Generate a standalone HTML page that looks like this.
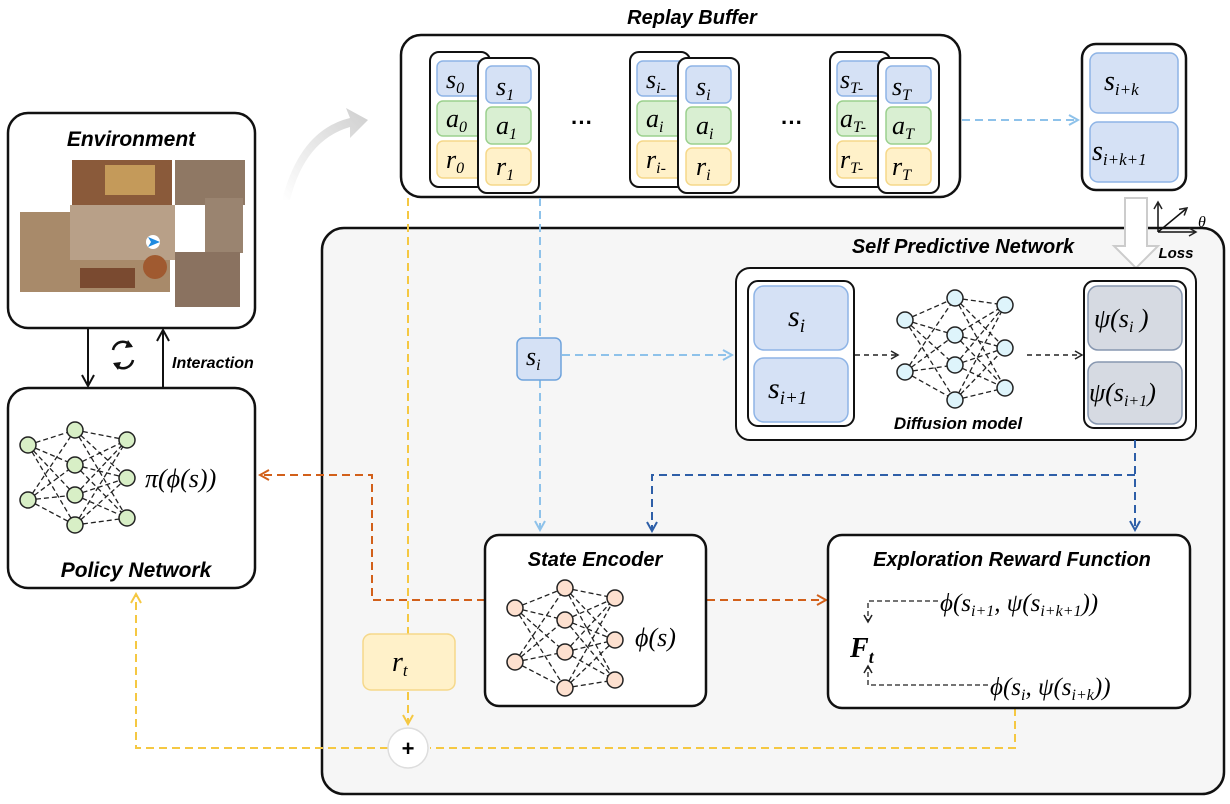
<!DOCTYPE html>
<html><head><meta charset="utf-8"><style>
html,body{margin:0;padding:0;background:#fff;}
svg{display:block;}
.m{font-family:"Liberation Serif",serif;font-style:italic;}
.t{font-family:"Liberation Sans",sans-serif;font-style:italic;font-weight:bold;}
</style></head><body>
<svg width="1230" height="804" viewBox="0 0 1230 804" xmlns="http://www.w3.org/2000/svg">
<defs>
<marker id="ab" markerWidth="10" markerHeight="10" refX="8" refY="5" orient="auto" markerUnits="userSpaceOnUse"><path d="M1 1L8 5L1 9" fill="none" stroke="#222" stroke-width="1.5"/></marker>
<marker id="alb" markerWidth="12" markerHeight="12" refX="10" refY="6" orient="auto" markerUnits="userSpaceOnUse"><path d="M1 1L10 6L1 11" fill="none" stroke="#8ec2ea" stroke-width="2"/></marker>
<marker id="adb" markerWidth="12" markerHeight="12" refX="10" refY="6" orient="auto" markerUnits="userSpaceOnUse"><path d="M1 1L10 6L1 11" fill="none" stroke="#2e5fa8" stroke-width="2"/></marker>
<marker id="aor" markerWidth="12" markerHeight="12" refX="10" refY="6" orient="auto" markerUnits="userSpaceOnUse"><path d="M1 1L10 6L1 11" fill="none" stroke="#d2601a" stroke-width="2"/></marker>
<marker id="ay" markerWidth="12" markerHeight="12" refX="10" refY="6" orient="auto" markerUnits="userSpaceOnUse"><path d="M1 1L10 6L1 11" fill="none" stroke="#f5c842" stroke-width="2"/></marker>
<marker id="ak" markerWidth="14" markerHeight="14" refX="12" refY="7" orient="auto" markerUnits="userSpaceOnUse"><path d="M1 1L12 7L1 13" fill="none" stroke="#111" stroke-width="2"/></marker>
<linearGradient id="sw" x1="0" y1="1" x2="1" y2="0"><stop offset="0" stop-color="#fff"/><stop offset="1" stop-color="#cfcfcf"/></linearGradient>
</defs>

<!-- SPN big box -->
<rect x="322" y="228" width="902" height="566" rx="22" fill="#f6f6f6" stroke="#111" stroke-width="2.5"/>
<text x="963" y="253" class="t" font-size="20" text-anchor="middle">Self Predictive Network</text>

<!-- Environment -->
<rect x="8" y="113" width="247" height="215" rx="20" fill="#fff" stroke="#111" stroke-width="2.5"/>
<text x="131" y="146" class="t" font-size="21" text-anchor="middle">Environment</text>
<g>
<rect x="72" y="160" width="100" height="45" fill="#8a5a3a"/>
<rect x="105" y="165" width="50" height="30" fill="#c49a5a"/>
<rect x="20" y="212" width="150" height="80" fill="#a88a6a"/>
<rect x="70" y="205" width="105" height="55" fill="#b8a088"/>
<rect x="175" y="160" width="70" height="45" fill="#8f7864"/>
<rect x="205" y="198" width="38" height="55" fill="#9a8470"/>
<rect x="175" y="252" width="65" height="55" fill="#8a7260"/>
<rect x="80" y="268" width="55" height="20" fill="#7a4a30"/>
<circle cx="155" cy="267" r="12" fill="#a05a30"/>
<circle cx="153" cy="242" r="7" fill="#fff"/>
<path d="M148 237L160 242L148 247L151 242Z" fill="#1e8ae0"/>
</g>
<line x1="88" y1="328" x2="88" y2="386" stroke="#111" stroke-width="2" marker-end="url(#ak)"/>
<line x1="163" y1="388" x2="163" y2="330" stroke="#111" stroke-width="2" marker-end="url(#ak)"/>
<path d="M113 350 A10 10 0 0 1 131 346 M133 360 A10 10 0 0 1 115 364" fill="none" stroke="#111" stroke-width="2.5"/>
<path d="M128 340L133 347L125 348Z M118 370L113 363L121 362Z" fill="#111"/>
<text x="172" y="368" class="t" font-size="16">Interaction</text>

<!-- Policy -->
<rect x="8" y="388" width="247" height="200" rx="20" fill="#fff" stroke="#111" stroke-width="2.5"/>
<path d="M28 445L75 430M28 445L75 465M28 445L75 495M28 445L75 525M28 500L75 430M28 500L75 465M28 500L75 495M28 500L75 525M75 430L127 440M75 430L127 478M75 430L127 518M75 465L127 440M75 465L127 478M75 465L127 518M75 495L127 440M75 495L127 478M75 495L127 518M75 525L127 440M75 525L127 478M75 525L127 518" stroke="#222" stroke-width="1.3" stroke-dasharray="5 3" fill="none"/>
<g fill="#d8efc6" stroke="#222" stroke-width="1.5">
<circle cx="28" cy="445" r="8"/><circle cx="28" cy="500" r="8"/>
<circle cx="75" cy="430" r="8"/><circle cx="75" cy="465" r="8"/><circle cx="75" cy="495" r="8"/><circle cx="75" cy="525" r="8"/>
<circle cx="127" cy="440" r="8"/><circle cx="127" cy="478" r="8"/><circle cx="127" cy="518" r="8"/>
</g>
<text x="145" y="487" class="m" font-size="26">π(ϕ(s))</text>
<text x="136" y="577" class="t" font-size="21" text-anchor="middle">Policy Network</text>

<!-- swoosh -->
<path d="M282 200 Q300 130 350 118 L346 108 L368 120 L350 138 L350 127 Q305 140 290 200 Z" fill="url(#sw)"/>

<!-- Replay buffer -->
<text x="692" y="24" class="t" font-size="20" text-anchor="middle">Replay Buffer</text>
<rect x="401" y="35" width="559" height="162" rx="20" fill="#fff" stroke="#111" stroke-width="2.5"/>
<g font-size="26" class="m">
<rect x="430" y="52" width="60" height="135" rx="9" fill="#fff" stroke="#111" stroke-width="2"/>
<rect x="437" y="61" width="52" height="35" rx="6" fill="#d5e1f5" stroke="#8eb4e6" stroke-width="1.5"/>
<rect x="437" y="101" width="52" height="35" rx="6" fill="#d9efd2" stroke="#9bd08e" stroke-width="1.5"/>
<rect x="437" y="141" width="52" height="37" rx="6" fill="#fff1c9" stroke="#f5d88a" stroke-width="1.5"/>
<text x="446" y="88">s<tspan font-size="16" dy="5">0</tspan></text>
<text x="446" y="127">a<tspan font-size="16" dy="5">0</tspan></text>
<text x="446" y="168">r<tspan font-size="16" dy="5">0</tspan></text>
<rect x="478" y="58" width="61" height="135" rx="9" fill="#fff" stroke="#111" stroke-width="2"/>
<rect x="486" y="66" width="45" height="37" rx="6" fill="#d5e1f5" stroke="#8eb4e6" stroke-width="1.5"/>
<rect x="486" y="107" width="45" height="37" rx="6" fill="#d9efd2" stroke="#9bd08e" stroke-width="1.5"/>
<rect x="486" y="148" width="45" height="37" rx="6" fill="#fff1c9" stroke="#f5d88a" stroke-width="1.5"/>
<text x="496" y="95">s<tspan font-size="16" dy="5">1</tspan></text>
<text x="496" y="134">a<tspan font-size="16" dy="5">1</tspan></text>
<text x="496" y="175">r<tspan font-size="16" dy="5">1</tspan></text>
<rect x="630" y="52" width="60" height="135" rx="9" fill="#fff" stroke="#111" stroke-width="2"/>
<rect x="637" y="61" width="52" height="35" rx="6" fill="#d5e1f5" stroke="#8eb4e6" stroke-width="1.5"/>
<rect x="637" y="101" width="52" height="35" rx="6" fill="#d9efd2" stroke="#9bd08e" stroke-width="1.5"/>
<rect x="637" y="141" width="52" height="37" rx="6" fill="#fff1c9" stroke="#f5d88a" stroke-width="1.5"/>
<text x="646" y="88">s<tspan font-size="16" dy="5">i-</tspan></text>
<text x="646" y="127">a<tspan font-size="16" dy="5">i</tspan></text>
<text x="646" y="168">r<tspan font-size="16" dy="5">i-</tspan></text>
<rect x="678" y="58" width="61" height="135" rx="9" fill="#fff" stroke="#111" stroke-width="2"/>
<rect x="686" y="66" width="45" height="37" rx="6" fill="#d5e1f5" stroke="#8eb4e6" stroke-width="1.5"/>
<rect x="686" y="107" width="45" height="37" rx="6" fill="#d9efd2" stroke="#9bd08e" stroke-width="1.5"/>
<rect x="686" y="148" width="45" height="37" rx="6" fill="#fff1c9" stroke="#f5d88a" stroke-width="1.5"/>
<text x="696" y="95">s<tspan font-size="16" dy="5">i</tspan></text>
<text x="696" y="134">a<tspan font-size="16" dy="5">i</tspan></text>
<text x="696" y="175">r<tspan font-size="16" dy="5">i</tspan></text>
<rect x="830" y="52" width="60" height="135" rx="9" fill="#fff" stroke="#111" stroke-width="2"/>
<rect x="837" y="61" width="52" height="35" rx="6" fill="#d5e1f5" stroke="#8eb4e6" stroke-width="1.5"/>
<rect x="837" y="101" width="52" height="35" rx="6" fill="#d9efd2" stroke="#9bd08e" stroke-width="1.5"/>
<rect x="837" y="141" width="52" height="37" rx="6" fill="#fff1c9" stroke="#f5d88a" stroke-width="1.5"/>
<text x="840" y="88">s<tspan font-size="16" dy="5">T-</tspan></text>
<text x="840" y="127">a<tspan font-size="16" dy="5">T-</tspan></text>
<text x="840" y="168">r<tspan font-size="16" dy="5">T-</tspan></text>
<rect x="878" y="58" width="61" height="135" rx="9" fill="#fff" stroke="#111" stroke-width="2"/>
<rect x="886" y="66" width="45" height="37" rx="6" fill="#d5e1f5" stroke="#8eb4e6" stroke-width="1.5"/>
<rect x="886" y="107" width="45" height="37" rx="6" fill="#d9efd2" stroke="#9bd08e" stroke-width="1.5"/>
<rect x="886" y="148" width="45" height="37" rx="6" fill="#fff1c9" stroke="#f5d88a" stroke-width="1.5"/>
<text x="892" y="95">s<tspan font-size="16" dy="5">T</tspan></text>
<text x="892" y="134">a<tspan font-size="16" dy="5">T</tspan></text>
<text x="892" y="175">r<tspan font-size="16" dy="5">T</tspan></text>
</g>
<text x="582" y="130" font-family="Liberation Sans" font-weight="bold" font-size="22" text-anchor="middle">···</text>
<text x="792" y="130" font-family="Liberation Sans" font-weight="bold" font-size="22" text-anchor="middle">···</text>

<!-- s_{i+k} box -->
<rect x="1082" y="44" width="104" height="146" rx="14" fill="#fff" stroke="#111" stroke-width="2.5"/>
<rect x="1090" y="53" width="88" height="60" rx="8" fill="#d5e1f5" stroke="#8eb4e6" stroke-width="1.5"/>
<rect x="1090" y="122" width="88" height="60" rx="8" fill="#d5e1f5" stroke="#8eb4e6" stroke-width="1.5"/>
<text x="1104" y="90" class="m" font-size="28">s<tspan font-size="17" dy="5">i+k</tspan></text>
<text x="1092" y="160" class="m" font-size="28">s<tspan font-size="17" dy="5">i+k+1</tspan></text>
<line x1="962" y1="120" x2="1078" y2="120" stroke="#8ec2ea" stroke-width="2" stroke-dasharray="8 5" marker-end="url(#alb)"/>

<path d="M1125 198 L1147 198 L1147 246 L1158 246 L1136 268 L1114 246 L1125 246 Z" fill="#fff" stroke="#ccc" stroke-width="2"/>
<line x1="1158" y1="232" x2="1158" y2="202" stroke="#111" stroke-width="1.5" marker-end="url(#ab)"/>
<line x1="1158" y1="232" x2="1196" y2="232" stroke="#111" stroke-width="1.5" marker-end="url(#ab)"/>
<line x1="1158" y1="232" x2="1187" y2="208" stroke="#111" stroke-width="1.5" marker-end="url(#ab)"/>
<text x="1198" y="227" class="m" font-size="16">θ</text>
<text x="1176" y="258" class="t" font-size="15" text-anchor="middle">Loss</text>

<!-- SPN inner -->
<rect x="736" y="268" width="460" height="172" rx="14" fill="#fff" stroke="#111" stroke-width="2"/>
<rect x="748" y="281" width="106" height="145" rx="10" fill="#fff" stroke="#111" stroke-width="2"/>
<rect x="754" y="286" width="94" height="64" rx="10" fill="#d5e1f5" stroke="#8eb4e6" stroke-width="1.5"/>
<rect x="754" y="358" width="94" height="64" rx="10" fill="#d5e1f5" stroke="#8eb4e6" stroke-width="1.5"/>
<text x="788" y="326" class="m" font-size="30">s<tspan font-size="19" dy="6">i</tspan></text>
<text x="768" y="398" class="m" font-size="30">s<tspan font-size="19" dy="6">i+1</tspan></text>
<line x1="855" y1="355" x2="898" y2="355" stroke="#222" stroke-width="1.5" stroke-dasharray="5 4" marker-end="url(#ab)"/>
<path d="M905 320L955 298M905 320L955 335M905 320L955 365M905 320L955 400M905 372L955 298M905 372L955 335M905 372L955 365M905 372L955 400M955 298L1005 305M955 298L1005 348M955 298L1005 388M955 335L1005 305M955 335L1005 348M955 335L1005 388M955 365L1005 305M955 365L1005 348M955 365L1005 388M955 400L1005 305M955 400L1005 348M955 400L1005 388" stroke="#222" stroke-width="1.3" stroke-dasharray="5 3" fill="none"/>
<g fill="#def4fb" stroke="#222" stroke-width="1.5">
<circle cx="905" cy="320" r="8"/><circle cx="905" cy="372" r="8"/>
<circle cx="955" cy="298" r="8"/><circle cx="955" cy="335" r="8"/><circle cx="955" cy="365" r="8"/><circle cx="955" cy="400" r="8"/>
<circle cx="1005" cy="305" r="8"/><circle cx="1005" cy="348" r="8"/><circle cx="1005" cy="388" r="8"/>
</g>
<text x="958" y="429" class="t" font-size="17" text-anchor="middle">Diffusion model</text>
<line x1="1027" y1="355" x2="1082" y2="355" stroke="#222" stroke-width="1.5" stroke-dasharray="5 4" marker-end="url(#ab)"/>
<rect x="1084" y="281" width="102" height="147" rx="10" fill="#fff" stroke="#111" stroke-width="2"/>
<rect x="1088" y="286" width="94" height="64" rx="10" fill="#d6dae2" stroke="#8797b0" stroke-width="1.5"/>
<rect x="1088" y="362" width="94" height="62" rx="10" fill="#d6dae2" stroke="#8797b0" stroke-width="1.5"/>
<text x="1094" y="327" class="m" font-size="26">ψ(s<tspan font-size="16" dy="5">i</tspan><tspan dy="-5"> )</tspan></text>
<text x="1089" y="401" class="m" font-size="26">ψ(s<tspan font-size="16" dy="5">i+1</tspan><tspan dy="-5">)</tspan></text>

<line x1="540" y1="198" x2="540" y2="530" stroke="#8ec2ea" stroke-width="2" stroke-dasharray="8 5" marker-end="url(#alb)"/>
<line x1="562" y1="355" x2="732" y2="355" stroke="#8ec2ea" stroke-width="2" stroke-dasharray="8 5" marker-end="url(#alb)"/>
<rect x="517" y="338" width="44" height="42" rx="6" fill="#d5e1f5" stroke="#6fa3dc" stroke-width="1.5"/>
<text x="526" y="365" class="m" font-size="26">s<tspan font-size="16" dy="5">i</tspan></text>

<path d="M1135 440 L1135 530" stroke="#2e5fa8" stroke-width="2" stroke-dasharray="8 5" fill="none" marker-end="url(#adb)"/>
<path d="M1135 475 L652 475 L652 531" stroke="#2e5fa8" stroke-width="2" stroke-dasharray="8 5" fill="none" marker-end="url(#adb)"/>

<line x1="408" y1="198" x2="408" y2="724" stroke="#f5c842" stroke-width="2" stroke-dasharray="8 5" marker-end="url(#ay)"/>
<path d="M1015 708 L1015 748 L430 748" stroke="#f5c842" stroke-width="2" stroke-dasharray="8 5" fill="none"/>
<path d="M388 748 L136 748 L136 594" stroke="#f5c842" stroke-width="2" stroke-dasharray="8 5" fill="none" marker-end="url(#ay)"/>
<rect x="363" y="634" width="92" height="56" rx="8" fill="#fff1c9" stroke="#f5d88a" stroke-width="1.5"/>
<text x="392" y="671" class="m" font-size="28">r<tspan font-size="17" dy="5">t</tspan></text>
<circle cx="408" cy="748" r="20" fill="#fff" stroke="#ddd" stroke-width="1.5"/>
<text x="408" y="756" font-family="Liberation Sans" font-weight="bold" font-size="22" text-anchor="middle">+</text>

<path d="M485 600 L372 600 L372 475 L260 475" stroke="#d2601a" stroke-width="2" stroke-dasharray="8 5" fill="none" marker-end="url(#aor)"/>
<line x1="707" y1="600" x2="826" y2="600" stroke="#d2601a" stroke-width="2" stroke-dasharray="8 5" marker-end="url(#aor)"/>

<!-- State encoder -->
<rect x="485" y="535" width="221" height="171" rx="14" fill="#fff" stroke="#111" stroke-width="2.5"/>
<text x="595" y="566" class="t" font-size="20" text-anchor="middle">State Encoder</text>
<path d="M515 608L565 588M515 608L565 620M515 608L565 652M515 608L565 688M515 662L565 588M515 662L565 620M515 662L565 652M515 662L565 688M565 588L615 598M565 588L615 640M565 588L615 680M565 620L615 598M565 620L615 640M565 620L615 680M565 652L615 598M565 652L615 640M565 652L615 680M565 688L615 598M565 688L615 640M565 688L615 680" stroke="#222" stroke-width="1.3" stroke-dasharray="5 3" fill="none"/>
<g fill="#fde0cf" stroke="#222" stroke-width="1.5">
<circle cx="515" cy="608" r="8"/><circle cx="515" cy="662" r="8"/>
<circle cx="565" cy="588" r="8"/><circle cx="565" cy="620" r="8"/><circle cx="565" cy="652" r="8"/><circle cx="565" cy="688" r="8"/>
<circle cx="615" cy="598" r="8"/><circle cx="615" cy="640" r="8"/><circle cx="615" cy="680" r="8"/>
</g>
<text x="635" y="646" class="m" font-size="26">ϕ(s)</text>

<!-- Exploration -->
<rect x="828" y="535" width="362" height="173" rx="14" fill="#fff" stroke="#111" stroke-width="2.5"/>
<text x="1012" y="566" class="t" font-size="20" text-anchor="middle">Exploration Reward Function</text>
<text x="940" y="611" class="m" font-size="25">ϕ(s<tspan font-size="16" dy="5">i+1</tspan><tspan dy="-5">, ψ(s</tspan><tspan font-size="16" dy="5">i+k+1</tspan><tspan dy="-5">))</tspan></text>
<text x="990" y="695" class="m" font-size="25">ϕ(s<tspan font-size="16" dy="5">i</tspan><tspan dy="-5">, ψ(s</tspan><tspan font-size="16" dy="5">i+k</tspan><tspan dy="-5">))</tspan></text>
<path d="M938 601 L868 601 L868 622" stroke="#222" stroke-width="1.3" stroke-dasharray="5 3" fill="none" marker-end="url(#ab)"/>
<path d="M988 685 L868 685 L868 666" stroke="#222" stroke-width="1.3" stroke-dasharray="5 3" fill="none" marker-end="url(#ab)"/>
<text x="850" y="657" font-family="Liberation Serif" font-style="italic" font-weight="bold" font-size="28">F<tspan font-size="18" dy="6">t</tspan></text>
</svg>
</body></html>
